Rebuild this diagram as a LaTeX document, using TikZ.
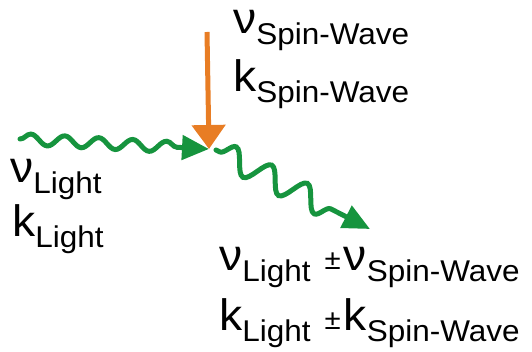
\documentclass[tikz,border=0pt]{standalone}
\usepackage{fontspec}
\setmainfont{Liberation Sans}[FakeStretch=1.05]
\usetikzlibrary{arrows.meta, decorations.pathmorphing}

\definecolor{wavegreen}{RGB}{22,148,62}
\definecolor{spinorange}{RGB}{232,125,36}

\newcommand{\bigsym}[1]{{\fontsize{44}{44}\selectfont #1}}
\newcommand{\lowsub}[1]{\raisebox{-11pt}{\fontsize{30}{30}\selectfont #1}}
\newcommand{\pmsign}{\raisebox{1pt}{\fontsize{28}{28}\selectfont ±}\hspace{3pt}}

\tikzset{
  lightwave/.style={draw=wavegreen, line width=5pt, line cap=round,
    decorate, decoration={snake, amplitude=5.5pt, segment length=34pt, post length=27pt}},
  scatwave/.style={draw=wavegreen, line width=5pt, line cap=round,
    decorate, decoration={snake, amplitude=12pt, segment length=40pt, pre length=4pt, post length=30pt}},
  greentip/.style={-{Triangle[length=27pt,width=24pt]}, wavegreen},
  label/.style={inner sep=0pt, anchor=base west, text height=26pt, text depth=16pt}
}

\begin{document}
\begin{tikzpicture}[x=1pt, y=-1pt]
\useasboundingbox (0,0) rectangle (532,352);

% points where the waves meet
\coordinate (src) at (20,139);
\coordinate (hit) at (209,149);
\coordinate (scat) at (216,150);
\coordinate (out) at (370,229);
\coordinate (swtop) at (207,32);

% incoming light
\draw[lightwave, greentip] (src) -- (hit);
% scattered light
\draw[scatwave, greentip] (scat) -- (out);
% spin wave
\draw[spinorange, line width=5pt, -{Triangle[length=24pt,width=33pt]}] (swtop) -- (hit);

% labels
\node[label] (nusw) at (233,34) {\bigsym{ν}\lowsub{Spin-Wave}};
\node[label] (ksw) at (233,92) {\bigsym{k}\lowsub{Spin-Wave}};
\node[label] (nul) at (10,183) {\bigsym{ν}\lowsub{Light}};
\node[label] (kl) at (12,237) {\bigsym{k}\lowsub{Light}};
\node[label] (nuout) at (219,271) {\bigsym{ν}\lowsub{Light}\hspace{14pt}\pmsign\bigsym{ν}\lowsub{Spin-Wave}};
\node[label] (kout) at (219,330) {\bigsym{k}\lowsub{Light}\hspace{14pt}\pmsign\bigsym{k}\lowsub{Spin-Wave}};
\end{tikzpicture}
\end{document}
